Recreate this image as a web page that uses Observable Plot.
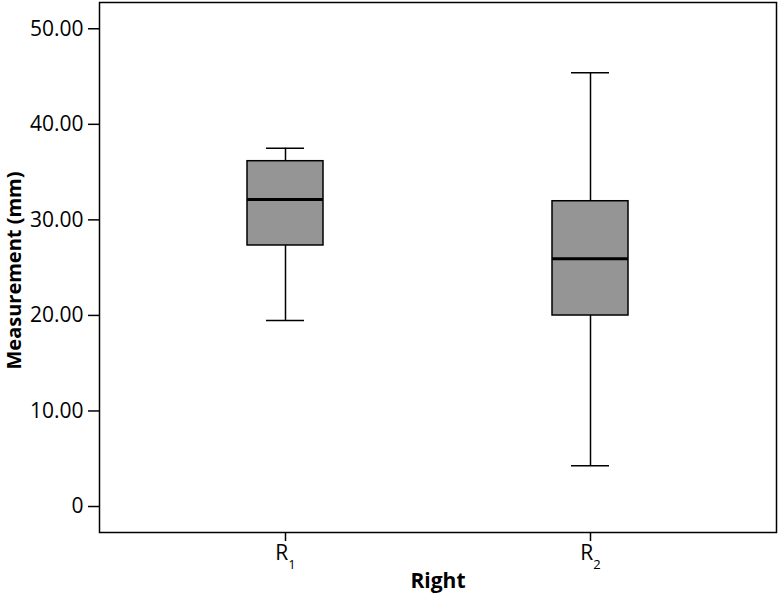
<!DOCTYPE html>
<html>
<head>
<meta charset="utf-8">
<script src="https://cdn.jsdelivr.net/npm/d3@7"></script>
<script src="https://cdn.jsdelivr.net/npm/@observablehq/plot@0.6"></script>
<style>
  html, body { margin: 0; padding: 0; background: white; }
</style>
</head>
<body>
<div id="chart"></div>
<script>
const categories = ["R₁", "R₂"];
const whiskerLow = [19.47, 4.26];
const q1 = [27.32, 19.99];
const median = [32.13, 25.92];
const q3 = [36.14, 31.95];
const whiskerHigh = [37.50, 45.40];
const yTicks = [0, 10, 20, 30, 40, 50];
const yTickLabels = ["0", "10.00", "20.00", "30.00", "40.00", "50.00"];
const xTitle = "Right";
const yTitle = "Measurement (mm)";

const data = categories.map((c, i) => ({
  cat: c, low: whiskerLow[i], q1: q1[i], med: median[i], q3: q3[i], high: whiskerHigh[i]
}));

const chart = Plot.plot({
  width: 778,
  height: 595,
  marginLeft: 99,
  marginRight: 2,
  marginTop: 2,
  marginBottom: 63,
  style: { fontFamily: "'Open Sans', sans-serif", fontSize: "21px", color: "black", background: "white" },
  x: { domain: categories, paddingInner: 0.751, paddingOuter: 0.484, label: null },
  y: { domain: [-2.72, 52.75], label: null },
  marks: [
    Plot.axisY({ ticks: yTicks, tickFormat: d => yTickLabels[yTicks.indexOf(d)], tickSize: 11, tickPadding: 5, label: null, strokeWidth: 1.5, fontSize: 21 }),
    Plot.axisX({ tickSize: 9, tickPadding: 4, label: null, strokeWidth: 1.5, fontSize: 21 }),
    Plot.ruleX(data, { x: "cat", y1: "low", y2: "q1", stroke: "black", strokeWidth: 1.5 }),
    Plot.ruleX(data, { x: "cat", y1: "q3", y2: "high", stroke: "black", strokeWidth: 1.5 }),
    Plot.tickY(data, { x: "cat", y: "low", insetLeft: 19, insetRight: 19, stroke: "black", strokeWidth: 1.5 }),
    Plot.tickY(data, { x: "cat", y: "high", insetLeft: 19, insetRight: 19, stroke: "black", strokeWidth: 1.5 }),
    Plot.barY(data, { x: "cat", y1: "q1", y2: "q3", fill: "#959595", stroke: "black", strokeWidth: 1.5 }),
    Plot.tickY(data, { x: "cat", y: "med", stroke: "black", strokeWidth: 3 }),
    Plot.frame({ stroke: "black", strokeWidth: 1.5 }),
    Plot.text([yTitle], { frameAnchor: "left", dx: -85, dy: 3, rotate: -90, fontWeight: "bold", fontSize: 20, textAnchor: "middle", lineAnchor: "middle" }),
    Plot.text([xTitle], { frameAnchor: "bottom", dy: 49, fontWeight: "bold", fontSize: 21, textAnchor: "middle", lineAnchor: "middle" })
  ]
});

// render subscript digits in x tick labels as smaller lowered text
const subMap = { "₀": "0", "₁": "1", "₂": "2", "₃": "3", "₄": "4", "₅": "5", "₆": "6", "₇": "7", "₈": "8", "₉": "9" };
d3.select(chart).selectAll('g[aria-label="x-axis tick label"] text').each(function () {
  const t = this.textContent;
  const m = t.match(/^(.*?)([₀-₉]+)$/);
  if (m) {
    this.textContent = m[1];
    d3.select(this).append("tspan")
      .attr("font-size", 13)
      .attr("dy", 9)
      .text(m[2].split("").map(ch => subMap[ch]).join(""));
  }
});
document.getElementById("chart").appendChild(chart);
</script>
</body>
</html>
